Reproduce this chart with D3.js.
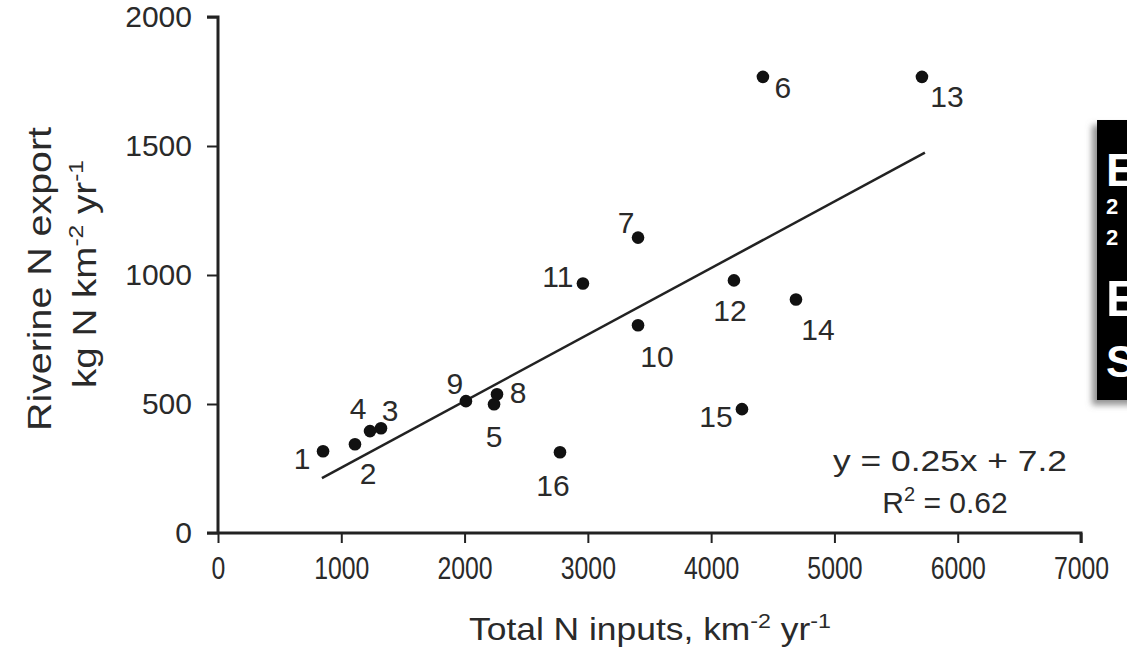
<!DOCTYPE html>
<html>
<head>
<meta charset="utf-8">
<script src="https://cdn.jsdelivr.net/npm/d3@7/dist/d3.min.js"></script>
<style>
  html, body { margin: 0; padding: 0; background: #fff; }
  svg { display: block; }
  text { font-family: "Liberation Sans", Arial, Helvetica, sans-serif; fill: #2a2a2a; }
</style>
</head>
<body>
<svg id="chart" width="1127" height="651"></svg>
<script>
// ---------- DATA ----------
const sites   = [1, 2, 3, 4, 5, 6, 7, 8, 9, 10, 11, 12, 13, 14, 15, 16];
const inputs  = [852, 1111, 1322, 1233, 2239, 4420, 3407, 2263, 2011, 3407, 2960, 4185, 5710, 4688, 4250, 2774];
const exportsN = [317, 344, 406, 395, 499, 1768, 1145, 538, 511, 805, 967, 979, 1768, 905, 480, 313];
const trendX  = [843, 5734];
const trendY  = [213, 1474];
const xTicks  = [0, 1000, 2000, 3000, 4000, 5000, 6000, 7000];
const yTicks  = [0, 500, 1000, 1500, 2000];
const equationText = "y = 0.25x + 7.2";
const r2Value = "0.62";

// ---------- LAYOUT ----------
const svg = d3.select("#chart");
const x = d3.scaleLinear().domain([0, 7000]).range([218, 1081]);
const y = d3.scaleLinear().domain([0, 2000]).range([533, 17]);

// label offsets (px) from each point centre, in site order
const labelOffsets = [
  [-21, 7], [13, 29], [9, -18], [-12, -23], [0, 32], [20, 10], [-12, -15], [21, -2],
  [-11, -18], [19, 31], [-25, -7], [-4, 30], [25, 19], [22, 30], [-26, 7], [-7, 33]
];

// drop shadow for the clipped black box
const defs = svg.append("defs");
const f = defs.append("filter").attr("id", "shadow").attr("x", "-50%").attr("y", "-20%").attr("width", "200%").attr("height", "140%");
f.append("feDropShadow").attr("dx", -5).attr("dy", 5).attr("stdDeviation", 3).attr("flood-color", "#777").attr("flood-opacity", 0.8);

// Y axis
const yAxis = svg.append("g").attr("transform", `translate(${x(0)},0)`)
  .call(d3.axisLeft(y).tickValues(yTicks).tickSize(11).tickPadding(15).tickFormat(d3.format("d")));
yAxis.select(".domain").attr("stroke", "#222").attr("stroke-width", 3).attr("d", `M-11,${y(2000)}H0V${y(0)}`);
yAxis.selectAll(".tick line").attr("stroke", "#222").attr("stroke-width", 2);
yAxis.selectAll(".tick text").attr("font-size", 30).attr("font-family", "Liberation Sans, Arial, sans-serif").attr("fill", "#2a2a2a");

// X axis
const xAxis = svg.append("g").attr("transform", `translate(0,${y(0)})`)
  .call(d3.axisBottom(x).tickValues(xTicks).tickSize(10).tickPadding(14).tickFormat(d3.format("d")));
xAxis.select(".domain").attr("stroke", "#222").attr("stroke-width", 3).attr("d", `M${x(0) - 11},0H${x(7000)}V10`);
xAxis.selectAll(".tick line").attr("stroke", "#222").attr("stroke-width", 2);
xAxis.selectAll(".tick text").attr("font-size", 31).attr("font-family", "Liberation Sans, Arial, sans-serif")
  .attr("fill", "#2a2a2a").attr("transform", "scale(0.8,1)");

// trend line
svg.append("line")
  .attr("x1", x(trendX[0])).attr("y1", y(trendY[0]))
  .attr("x2", x(trendX[1])).attr("y2", y(trendY[1]))
  .attr("stroke", "#222").attr("stroke-width", 2.5);

// points
svg.append("g").selectAll("circle").data(sites).join("circle")
  .attr("cx", (d, i) => x(inputs[i])).attr("cy", (d, i) => y(exportsN[i]))
  .attr("r", 6.3).attr("fill", "#111");

// point labels
svg.append("g").selectAll("text").data(sites).join("text")
  .attr("x", (d, i) => x(inputs[i]) + labelOffsets[i][0])
  .attr("y", (d, i) => y(exportsN[i]) + labelOffsets[i][1])
  .attr("dy", "0.36em").attr("text-anchor", "middle").attr("font-size", 30)
  .text(d => d);

// equation
svg.append("text").attr("x", 950).attr("y", 471).attr("text-anchor", "middle")
  .attr("font-size", 30).attr("textLength", 234).attr("lengthAdjust", "spacingAndGlyphs").text(equationText);
const r2 = svg.append("text").attr("x", 945).attr("y", 513).attr("text-anchor", "middle").attr("font-size", 30);
r2.append("tspan").text("R");
r2.append("tspan").attr("dy", -12).attr("font-size", 20).text("2");
r2.append("tspan").attr("dy", 12).text(" = " + r2Value);

// x axis title
const xt = svg.append("text").attr("x", 650).attr("y", 640).attr("text-anchor", "middle").attr("font-size", 32)
  .attr("textLength", 362).attr("lengthAdjust", "spacingAndGlyphs");
xt.append("tspan").text("Total N inputs, km");
xt.append("tspan").attr("dy", -12).attr("font-size", 21).text("-2");
xt.append("tspan").attr("dy", 12).text(" yr");
xt.append("tspan").attr("dy", -12).attr("font-size", 21).text("-1");

// y axis title (two lines)
svg.append("text").attr("transform", "translate(51,279) rotate(-90)")
  .attr("text-anchor", "middle").attr("font-size", 33).attr("textLength", 304).attr("lengthAdjust", "spacingAndGlyphs")
  .text("Riverine N export");
const yt2 = svg.append("text").attr("transform", "translate(96,274) rotate(-90)")
  .attr("text-anchor", "middle").attr("font-size", 33).attr("textLength", 228).attr("lengthAdjust", "spacingAndGlyphs");
yt2.append("tspan").text("kg N km");
yt2.append("tspan").attr("dy", -13).attr("font-size", 21).text("-2");
yt2.append("tspan").attr("dy", 13).text(" yr");
yt2.append("tspan").attr("dy", -13).attr("font-size", 21).text("-1");

// clipped black box at right edge
const box = svg.append("g");
box.append("rect").attr("x", 1097).attr("y", 120).attr("width", 60).attr("height", 280)
  .attr("fill", "#000").attr("filter", "url(#shadow)");
const boxLetters = [["E", 186, 46], ["2", 214, 22], ["2", 245, 22], ["E", 316, 50], ["S", 377, 44]];
box.selectAll("text").data(boxLetters).join("text")
  .attr("x", 1106).attr("y", d => d[1]).attr("font-size", d => d[2]).attr("font-weight", "bold")
  .style("fill", "#fff").text(d => d[0]);
</script>
</body>
</html>
